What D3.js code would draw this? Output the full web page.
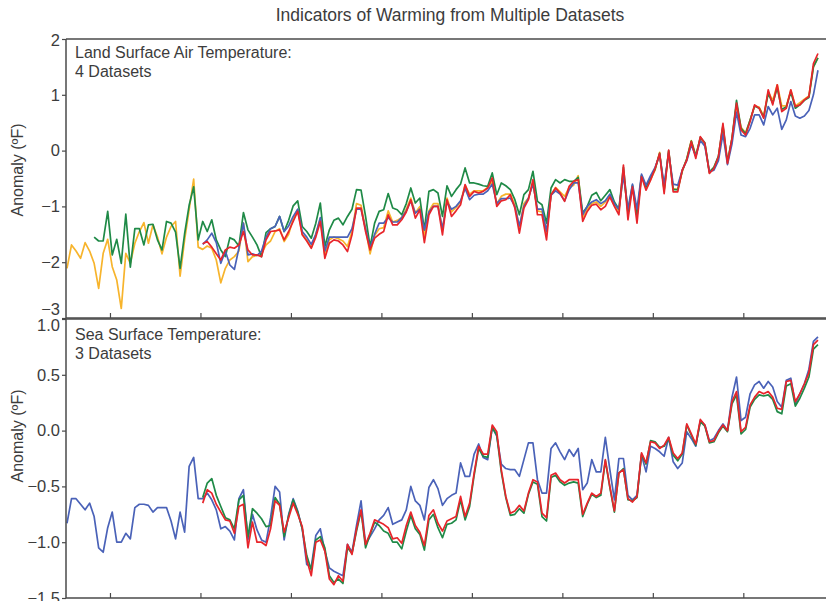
<!DOCTYPE html>
<html>
<head>
<meta charset="utf-8">
<script src="https://cdn.jsdelivr.net/npm/d3@7"></script>
<style>
  html, body { margin: 0; padding: 0; background: #fff; }
  svg { display: block; font-family: "Liberation Sans", Arial, sans-serif; }
</style>
</head>
<body>
<svg id="chart" width="826" height="601"></svg>
<script>
// ---------------- DATA ----------------
const title = "Indicators of Warming from Multiple Datasets";
const yAxisLabel = "Anomaly (ºF)";
const landLabel = ["Land Surface Air Temperature:", "4 Datasets"];
const seaLabel = ["Sea Surface Temperature:", "3 Datasets"];

const xTickYears = [1860, 1880, 1900, 1920, 1940, 1960, 1980, 2000];
const landTicks = [2, 1, 0, -1, -2, -3];
const seaTicks = [1.0, 0.5, 0.0, -0.5, -1.0, -1.5];

// Land surface air temperature anomalies (ºF)
const landOrangeStart = 1850;
const landOrange = [
  -2.11,-1.69,-1.80,-1.93,-1.65,-1.80,-2.02,-2.47,-1.84,-1.59,
  -2.08,-2.32,-2.83,-1.84,-2.02,-1.66,-1.45,-1.29,-1.66,-1.33,
  -1.55,-1.85,-1.55,-1.36,-1.27,-2.25,-1.60,-1.06,-0.51,-1.73,
  -1.77,-1.71,-1.75,-1.96,-2.37,-2.11,-1.96,-1.90,-1.80,-1.30,
  -1.99,-1.90,-1.88,-1.85,-1.69,-1.62,-1.45,-1.40,-1.63,-1.50,
  -1.22,-1.06,-1.50,-1.60,-1.74,-1.50,-1.22,-1.88,-1.60,-1.55,
  -1.58,-1.62,-1.72,-1.45,-0.95,-0.98,-1.40,-1.85,-1.52,-1.40,
  -1.38,-1.08,-1.28,-1.25,-1.20,-1.05,-0.85,-1.12,-1.00,-1.55,
  -1.08,-0.95,-0.95,-1.42,-0.85,-1.10,-1.02,-0.92,-0.62,-0.78,
  -0.72,-0.72,-0.72,-0.66,-0.55,-0.95,-0.82,-0.78,-0.78,-0.97,
  -1.38,-0.95,-0.85,-0.57,-1.08,-1.10,-1.48,-0.80,-0.66,-0.74,
  -0.82,-0.66,-0.62,-0.45,-1.20,-1.05,-0.95,-0.92,-1.00,-0.92,
  -0.82,-0.98,-1.08,-0.40,-1.12,-0.66,-1.15,-0.45,-0.68,-0.52,
  -0.35,-0.03,-0.72,-0.02,-0.68,-0.70,-0.38,-0.14,0.18,-0.08,
  0.22,0.12,-0.40,-0.30,-0.12,0.42,-0.22,0.22,0.82,0.42,
  0.32,0.55,0.80,0.78,0.62,1.05,0.90,1.18,0.80,0.80,
  1.08,0.80,0.86,0.92,0.98,1.50,1.66
];
const landGreenStart = 1856;
const landGreen = [
  -1.55,-1.62,-1.62,-1.09,
  -1.87,-1.59,-2.02,-1.14,-2.09,-1.40,-1.40,-1.69,-1.33,-1.32,
  -1.60,-1.78,-1.27,-1.30,-1.46,-2.11,-1.49,-0.98,-0.65,-1.60,
  -1.27,-1.45,-1.24,-1.60,-1.78,-1.90,-1.56,-1.60,-1.71,-1.11,
  -1.42,-1.55,-1.69,-1.90,-1.47,-1.40,-1.36,-1.18,-1.45,-1.25,
  -0.99,-0.90,-1.36,-1.45,-1.57,-1.30,-0.94,-1.72,-1.42,-1.25,
  -1.21,-1.33,-1.18,-1.05,-0.70,-0.71,-1.18,-1.72,-1.30,-1.09,
  -1.06,-0.77,-1.03,-1.06,-1.15,-0.95,-0.67,-0.94,-0.85,-1.42,
  -0.73,-0.70,-0.76,-1.18,-0.63,-0.82,-0.70,-0.60,-0.31,-0.58,
  -0.58,-0.60,-0.63,-0.64,-0.40,-0.79,-0.58,-0.63,-0.70,-0.88,
  -1.15,-0.79,-0.70,-0.37,-0.91,-0.97,-1.30,-0.67,-0.52,-0.58,
  -0.52,-0.55,-0.55,-0.48,-1.12,-1.00,-0.80,-0.75,-0.90,-0.80,
  -0.70,-0.92,-1.05,-0.30,-1.10,-0.62,-1.18,-0.45,-0.65,-0.48,
  -0.33,-0.05,-0.70,0.00,-0.70,-0.70,-0.36,-0.15,0.17,-0.10,
  0.24,0.14,-0.38,-0.30,-0.10,0.45,-0.20,0.22,0.90,0.40,
  0.30,0.55,0.80,0.76,0.60,1.02,0.85,1.12,0.74,0.78,
  1.05,0.76,0.82,0.90,0.95,1.50,1.66
];
const landBlueStart = 1880;
const landBlue = [
  -1.68,-1.60,-1.48,-1.65,-2.02,-1.80,-2.05,-2.13,-1.75,-1.30,
  -1.87,-1.85,-1.88,-1.80,-1.55,-1.40,-1.36,-1.18,-1.45,-1.35,
  -1.18,-1.05,-1.45,-1.55,-1.68,-1.50,-1.20,-1.80,-1.55,-1.55,
  -1.55,-1.55,-1.55,-1.40,-1.05,-1.05,-1.40,-1.75,-1.50,-1.30,
  -1.30,-1.20,-1.28,-1.28,-1.20,-1.08,-0.90,-1.12,-1.05,-1.42,
  -1.10,-1.00,-1.00,-1.40,-0.92,-1.05,-1.00,-0.90,-0.68,-0.88,
  -0.80,-0.78,-0.78,-0.72,-0.60,-0.95,-0.86,-0.86,-0.85,-1.00,
  -1.35,-1.00,-0.85,-0.60,-1.05,-1.05,-1.45,-0.80,-0.72,-0.78,
  -0.90,-0.70,-0.58,-0.58,-1.15,-1.00,-0.92,-0.88,-0.95,-0.90,
  -0.78,-0.95,-1.05,-0.45,-1.05,-0.60,-1.05,-0.42,-0.62,-0.45,
  -0.30,-0.08,-0.60,-0.05,-0.60,-0.62,-0.35,-0.18,0.10,-0.10,
  0.18,0.08,-0.38,-0.35,-0.18,0.30,-0.25,0.12,0.69,0.28,
  0.25,0.40,0.64,0.64,0.46,0.79,0.64,0.76,0.38,0.55,
  0.88,0.62,0.58,0.62,0.72,1.00,1.44
];
const landRedStart = 1880;
const landRed = [
  -1.67,-1.63,-1.73,-1.85,-1.96,-1.78,-1.73,-1.75,-1.69,-1.45,
  -1.78,-1.87,-1.87,-1.90,-1.60,-1.45,-1.44,-1.42,-1.60,-1.45,
  -1.27,-1.09,-1.51,-1.62,-1.75,-1.55,-1.27,-1.93,-1.66,-1.60,
  -1.62,-1.69,-1.81,-1.51,-1.03,-1.03,-1.45,-1.78,-1.57,-1.50,
  -1.45,-1.15,-1.33,-1.33,-1.24,-1.10,-0.88,-1.21,-1.06,-1.65,
  -1.15,-1.00,-1.00,-1.51,-0.88,-1.18,-1.08,-0.97,-0.61,-0.82,
  -0.73,-0.76,-0.73,-0.67,-0.49,-1.00,-0.90,-0.88,-0.79,-1.03,
  -1.48,-1.03,-0.88,-0.52,-1.15,-1.15,-1.60,-0.79,-0.67,-0.76,
  -0.91,-0.64,-0.55,-0.52,-1.27,-1.09,-0.98,-0.96,-1.06,-1.00,
  -0.83,-1.00,-1.15,-0.26,-1.24,-0.65,-1.30,-0.47,-0.71,-0.53,
  -0.32,-0.05,-0.77,0.01,-0.74,-0.74,-0.35,-0.17,0.16,-0.14,
  0.25,0.13,-0.41,-0.32,-0.11,0.49,-0.23,0.22,0.85,0.37,
  0.28,0.52,0.82,0.76,0.58,1.09,0.82,1.18,0.70,0.76,
  1.09,0.79,0.82,0.91,0.97,1.56,1.74
];

// Sea surface temperature anomalies (ºF)
const seaBlueStart = 1850;
const seaBlue = [
  -0.83,-0.61,-0.61,-0.66,-0.71,-0.65,-0.77,-1.05,-1.09,-0.87,
  -0.73,-1.00,-1.00,-0.92,-0.97,-0.69,-0.66,-0.66,-0.67,-0.73,
  -0.69,-0.69,-0.69,-0.81,-0.97,-0.73,-0.91,-0.32,-0.24,-0.61,
  -0.61,-0.56,-0.62,-0.71,-0.88,-0.86,-0.90,-0.98,-0.61,-0.53,
  -0.98,-0.75,-0.89,-0.98,-1.00,-0.78,-0.50,-0.55,-0.98,-0.75,
  -0.61,-0.72,-0.88,-1.20,-1.22,-0.94,-0.88,-1.08,-1.23,-1.26,
  -1.28,-1.30,-1.02,-1.09,-0.85,-0.63,-1.02,-0.95,-0.88,-0.80,
  -0.76,-0.69,-0.84,-0.82,-0.80,-0.71,-0.50,-0.63,-0.67,-0.80,
  -0.51,-0.44,-0.52,-0.67,-0.61,-0.58,-0.56,-0.29,-0.41,-0.41,
  -0.21,-0.12,-0.24,-0.26,0.03,-0.05,-0.30,-0.34,-0.35,-0.35,
  -0.41,-0.26,-0.11,-0.11,-0.44,-0.56,-0.56,-0.16,-0.11,-0.19,
  -0.26,-0.17,-0.23,-0.16,-0.53,-0.47,-0.26,-0.37,-0.37,-0.06,
  -0.35,-0.62,-0.25,-0.25,-0.58,-0.62,-0.58,-0.22,-0.37,-0.14,
  -0.16,-0.19,-0.23,-0.06,-0.28,-0.34,-0.29,-0.01,-0.07,-0.14,
  0.09,0.05,-0.09,-0.07,0.00,0.06,0.00,0.30,0.48,0.09,
  0.12,0.33,0.41,0.44,0.38,0.44,0.39,0.26,0.21,0.45,
  0.47,0.24,0.33,0.42,0.55,0.80,0.84
];
const seaGreenStart = 1880;
const seaGreen = [
  -0.60,-0.47,-0.43,-0.58,-0.68,-0.78,-0.80,-0.88,-0.62,-0.58,
  -0.95,-0.70,-0.74,-0.79,-0.86,-0.85,-0.60,-0.66,-0.95,-0.76,
  -0.62,-0.73,-0.88,-1.12,-1.25,-0.98,-0.95,-1.05,-1.30,-1.36,
  -1.33,-1.37,-1.05,-1.10,-0.90,-0.72,-1.05,-0.93,-0.82,-0.85,
  -0.90,-0.92,-1.00,-1.00,-1.06,-0.90,-0.76,-0.88,-0.93,-1.07,
  -0.80,-0.75,-0.87,-0.96,-0.84,-0.83,-0.80,-0.62,-0.80,-0.68,
  -0.40,-0.16,-0.23,-0.24,0.03,-0.04,-0.37,-0.60,-0.76,-0.75,
  -0.70,-0.74,-0.57,-0.46,-0.48,-0.77,-0.81,-0.42,-0.40,-0.46,
  -0.49,-0.47,-0.46,-0.47,-0.77,-0.66,-0.57,-0.60,-0.58,-0.27,
  -0.51,-0.73,-0.38,-0.34,-0.62,-0.63,-0.60,-0.21,-0.30,-0.09,
  -0.10,-0.15,-0.14,-0.07,-0.22,-0.27,-0.21,0.05,-0.04,-0.13,
  0.08,0.04,-0.11,-0.10,-0.02,0.04,-0.01,0.24,0.32,-0.03,
  0.01,0.21,0.28,0.32,0.31,0.32,0.28,0.17,0.15,0.40,
  0.42,0.22,0.29,0.38,0.48,0.73,0.77
];
const seaRedStart = 1880;
const seaRed = [
  -0.65,-0.53,-0.56,-0.66,-0.73,-0.80,-0.81,-0.92,-0.68,-0.66,
  -1.05,-0.82,-1.00,-1.00,-1.03,-0.88,-0.63,-0.67,-0.91,-0.78,
  -0.65,-0.75,-0.86,-1.16,-1.30,-1.00,-0.98,-1.08,-1.33,-1.38,
  -1.30,-1.35,-1.02,-1.11,-0.88,-0.71,-1.02,-0.92,-0.80,-0.82,
  -0.84,-0.87,-0.97,-0.96,-1.01,-0.85,-0.73,-0.85,-0.91,-1.03,
  -0.76,-0.71,-0.83,-0.90,-0.81,-0.79,-0.77,-0.59,-0.77,-0.65,
  -0.38,-0.14,-0.21,-0.21,0.05,-0.01,-0.35,-0.59,-0.74,-0.72,
  -0.67,-0.72,-0.56,-0.44,-0.46,-0.74,-0.78,-0.40,-0.38,-0.44,
  -0.47,-0.44,-0.44,-0.44,-0.75,-0.65,-0.56,-0.59,-0.56,-0.26,
  -0.50,-0.72,-0.38,-0.35,-0.61,-0.64,-0.59,-0.20,-0.29,-0.10,
  -0.11,-0.16,-0.13,-0.06,-0.20,-0.25,-0.20,0.06,-0.03,-0.12,
  0.10,0.05,-0.10,-0.09,-0.01,0.05,0.00,0.26,0.35,-0.01,
  0.03,0.23,0.30,0.35,0.33,0.35,0.30,0.20,0.19,0.44,
  0.45,0.26,0.33,0.42,0.52,0.77,0.81
];

const colors = { orange: "#f7b42c", green: "#1f8a47", blue: "#4a62b8", red: "#e8252b" };

// ---------------- LAYOUT ----------------
const svg = d3.select("#chart");
const left = 66, right = 828;
const top1 = 39, bot1 = 318, top2 = 319, bot2 = 598;

const x = d3.scaleLinear().domain([1850.28, 2018.72]).range([left, right]);
const yLand = d3.scaleLinear().domain([-3, 2]).range([bot1, top1]);
const ySea = d3.scaleLinear().domain([-1.5, 1.0]).range([bot2, top2]);

const textColor = "#3c3c3c";
const axisColor = "#4a4a4a";
const fontFam = '"Liberation Sans", Arial, sans-serif';

// Title
svg.append("text")
  .attr("x", 450).attr("y", 21)
  .attr("text-anchor", "middle")
  .attr("font-size", 17.5).attr("fill", textColor)
  .text(title);

function drawPanel(y, top, bot, ticks, fmt, series, labelLines, yLabelY, labelBaseline, edgeShift) {
  const g = svg.append("g");
  const clipId = "clip" + top;
  svg.append("clipPath").attr("id", clipId)
    .append("rect").attr("x", left).attr("y", top - 2).attr("width", right - left).attr("height", bot - top + 4);

  const lg = g.append("g").attr("clip-path", `url(#${clipId})`);
  series.forEach(s => {
    const line = d3.line()
      .x((d, i) => x(s.start + i + 0.5))
      .y(d => y(d));
    lg.append("path")
      .attr("d", line(s.values))
      .attr("fill", "none")
      .attr("stroke", s.color)
      .attr("stroke-width", 1.7)
      .attr("stroke-linejoin", "round");
  });

  // Y axis
  const ya = g.append("g").attr("transform", `translate(${left},0)`)
    .call(d3.axisLeft(y).tickValues(ticks).tickFormat(fmt).tickSize(4).tickPadding(2));
  ya.select(".domain").remove();
  ya.selectAll(".tick line").attr("stroke", axisColor).attr("stroke-width", 1.2);
  ya.selectAll(".tick text")
    .attr("font-size", 16.5).attr("fill", textColor)
    .attr("font-family", fontFam)
    .attr("dy", d => edgeShift(d));

  // X axis ticks (inward, no labels)
  const xa = g.append("g").attr("transform", `translate(0,${bot})`)
    .call(d3.axisBottom(x).tickValues(xTickYears).tickSize(-5).tickFormat(""));
  xa.select(".domain").remove();
  xa.selectAll(".tick line").attr("stroke", axisColor).attr("stroke-width", 1.2);

  // Frame lines
  g.append("line").attr("x1", left).attr("x2", left).attr("y1", top).attr("y2", bot)
    .attr("stroke", axisColor).attr("stroke-width", 1.5);
  g.append("line").attr("x1", left).attr("x2", right).attr("y1", bot).attr("y2", bot)
    .attr("stroke", axisColor).attr("stroke-width", 1.5);
  g.append("line").attr("x1", left).attr("x2", right).attr("y1", top).attr("y2", top)
    .attr("stroke", axisColor).attr("stroke-width", 1.5);

  // Panel label
  const t = g.append("text").attr("x", 75).attr("y", labelBaseline)
    .attr("font-size", 16).attr("fill", textColor);
  labelLines.forEach((l, i) => {
    t.append("tspan").attr("x", 75).attr("dy", i === 0 ? 0 : 19).text(l);
  });

  // Y axis title
  g.append("text")
    .attr("transform", `translate(23,${yLabelY}) rotate(-90)`)
    .attr("text-anchor", "middle")
    .attr("font-size", 16).attr("fill", textColor)
    .text(yAxisLabel);
}

const fmtLand = d => d3.format("d")(d);
const fmtSea = d => d3.format(".1f")(d);

drawPanel(yLand, top1, bot1, landTicks, fmtLand, [
  { start: landOrangeStart, values: landOrange, color: colors.orange },
  { start: landGreenStart, values: landGreen, color: colors.green },
  { start: landBlueStart, values: landBlue, color: colors.blue },
  { start: landRedStart, values: landRed, color: colors.red }
], landLabel, 170, 58, d => d === -3 ? "-0.2em" : (d === 2 ? "0.4em" : "0.32em"));

drawPanel(ySea, top2, bot2, seaTicks, fmtSea, [
  { start: seaBlueStart, values: seaBlue, color: colors.blue },
  { start: seaGreenStart, values: seaGreen, color: colors.green },
  { start: seaRedStart, values: seaRed, color: colors.red }
], seaLabel, 436, 340, d => d === 1.0 ? "0.7em" : "0.32em");
</script>
</body>
</html>
